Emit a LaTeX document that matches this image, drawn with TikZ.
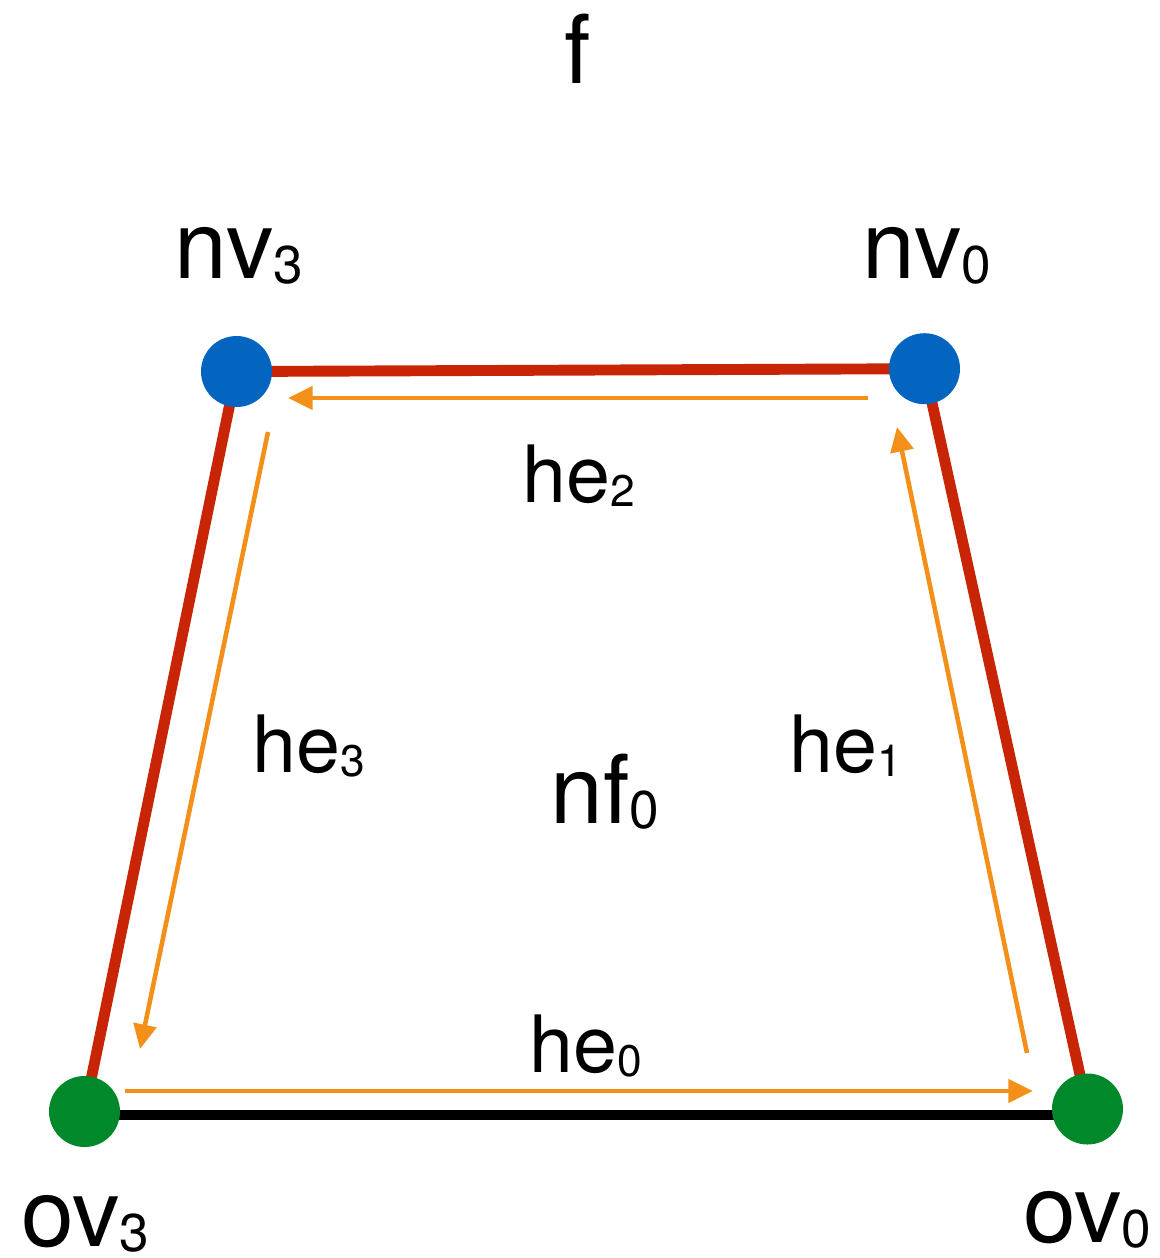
\documentclass[tikz,border=0pt]{standalone}
\usepackage{graphicx}
\usepackage{fontspec}
\setmainfont{TeX Gyre Heros}
\usetikzlibrary{arrows.meta,backgrounds}
\definecolor{edge}{HTML}{C82506}
\definecolor{vnew}{HTML}{0365C0}
\definecolor{vold}{HTML}{00882B}
\definecolor{half}{HTML}{F39019}
\newcommand{\idx}[1]{\raisebox{-0.06em}{\scalebox{0.56}{#1}}}

\begin{document}
\begin{tikzpicture}[x=0.2mm,y=-0.2mm,
  dot/.style={circle,inner sep=0pt,minimum size=14.2mm},
  faceedge/.style={line width=6.2pt},
  big/.style={font=\fontsize{54}{60}\selectfont,inner sep=0pt,anchor=base},
  small/.style={font=\fontsize{45}{50}\selectfont,inner sep=0pt,anchor=base},
  halfedge/.style={half,line width=2.6pt,-{Triangle[length=14pt,width=13pt]}}]
  \path[use as bounding box] (0,0) rectangle (1160,1258);
  % vertices: new ones on top, old ones at the bottom
  \foreach \name/\xx/\yy/\c in {nv3/236.5/371.5/vnew,nv0/924.5/368.7/vnew,ov3/84.5/1111.5/vold,ov0/1087.5/1109/vold}{
    \node[dot,fill=\c] (\name) at (\xx,\yy) {};
  }

  % edges of the face, kept behind the vertices
  \begin{scope}[on background layer]
    \draw[faceedge,edge] (ov3.center) -- (nv3.center) -- (nv0.center) -- (ov0.center);
    \draw[faceedge,black] ([yshift=-2pt]ov3.center) -- ([yshift=-2pt]ov3.center -| ov0.center);
  \end{scope}

  % half-edges running round the face
  \foreach \name/\xa/\ya/\xb/\yb in {he0/125/1091/1033/1091,he1/1027/1053/897/427,he2/868/398/288/398,he3/268/432/140/1049}{
    \coordinate (\name-s) at (\xa,\ya);
    \coordinate (\name-t) at (\xb,\yb);
    \draw[halfedge] (\name-s) -- (\name-t);
  }

  \node[big] (title) at (578,83) {f};
  \node[big] (lnv3) at (239,278) {nv\idx{3}};
  \node[big] (lnv0) at (927,278) {nv\idx{0}};
  \node[big] (lov3) at (85,1246) {ov\idx{3}};
  \node[big] (lov0) at (1087,1242) {ov\idx{0}};
  \node[big] (lnf0) at (605,823) {nf\idx{0}};
  \node[small] (lhe0) at (586,1072) {he\idx{0}};
  \node[small] (lhe1) at (846,772) {he\idx{1}};
  \node[small] (lhe2) at (579,502) {he\idx{2}};
  \node[small] (lhe3) at (309,772) {he\idx{3}};
\end{tikzpicture}
\end{document}
